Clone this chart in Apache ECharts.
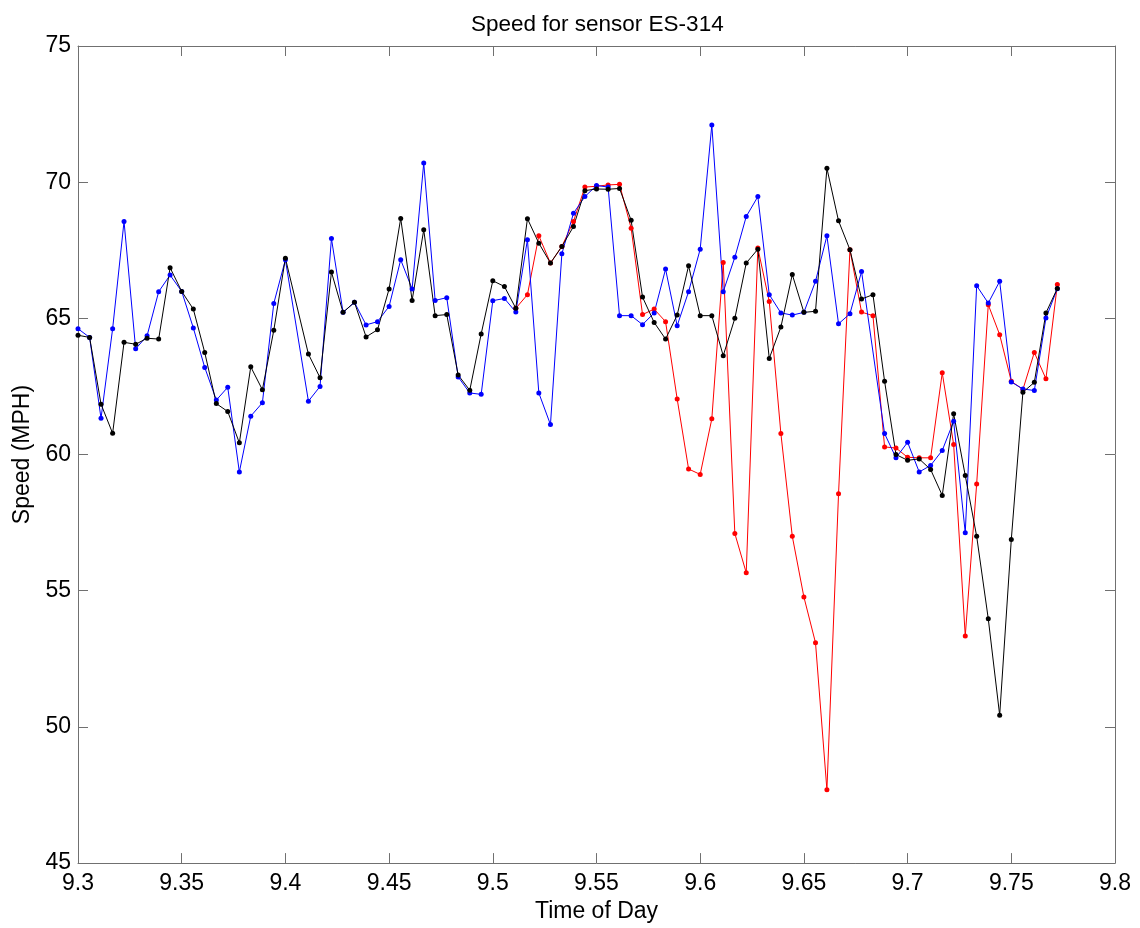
<!DOCTYPE html>
<html>
<head>
<meta charset="utf-8">
<script src="https://cdn.jsdelivr.net/npm/echarts@6/dist/echarts.min.js"></script>
<style>html,body{margin:0;padding:0;background:#fff}#c{width:1140px;height:928px}</style>
</head>
<body>
<div id="c"></div>
<script>
const times = [9.3000, 9.3056, 9.3111, 9.3167, 9.3222, 9.3278, 9.3333, 9.3389, 9.3444, 9.3500,
  9.3556, 9.3611, 9.3667, 9.3722, 9.3778, 9.3833, 9.3889, 9.3944, 9.4000, 9.4056,
  9.4111, 9.4167, 9.4222, 9.4278, 9.4333, 9.4389, 9.4444, 9.4500, 9.4556, 9.4611,
  9.4667, 9.4722, 9.4778, 9.4833, 9.4889, 9.4944, 9.5000, 9.5056, 9.5111, 9.5167,
  9.5222, 9.5278, 9.5333, 9.5389, 9.5444, 9.5500, 9.5556, 9.5611, 9.5667, 9.5722,
  9.5778, 9.5833, 9.5889, 9.5944, 9.6000, 9.6056, 9.6111, 9.6167, 9.6222, 9.6278,
  9.6333, 9.6389, 9.6444, 9.6500, 9.6556, 9.6611, 9.6667, 9.6722, 9.6778, 9.6833,
  9.6889, 9.6944, 9.7000, 9.7056, 9.7111, 9.7167, 9.7222, 9.7278, 9.7333, 9.7389,
  9.7444, 9.7500, 9.7556, 9.7611, 9.7667, 9.7722];

// red series is hidden under the black one before 9.511; only its visible part is given
const redSpeed = [null, null, null, null, null, null, null, null, null, null,
  null, null, null, null, null, null, null, null, null, null,
  null, null, null, null, null, null, null, null, null, null,
  null, null, null, null, null, null, null, null, 65.37, 65.87,
  68.03, 67.03, 67.64, 68.56, 69.82, 69.85, 69.90, 69.92, 68.31, 65.14,
  65.34, 64.88, 62.04, 59.47, 59.27, 61.31, 67.05, 57.10, 55.66, 67.58,
  65.62, 60.77, 57.00, 54.77, 53.09, 47.69, 58.56, 67.52, 65.23, 65.10,
  60.28, 60.24, 59.90, 59.88, 59.88, 63.00, 60.37, 53.34, 58.92, 65.50,
  64.40, 62.69, 62.39, 63.75, 62.78, 66.24];

const blueSpeed = [64.62, 64.30, 61.33, 64.62, 68.56, 63.88, 64.36, 65.98, 66.59, 65.99,
  64.65, 63.20, 62.00, 62.47, 59.36, 61.41, 61.90, 65.55, 67.15, null,
  61.96, 62.50, 67.93, 65.22, 65.59, 64.76, 64.88, 65.44, 67.15, 66.08,
  70.70, 65.66, 65.76, 62.85, 62.26, 62.21, 65.65, 65.73, 65.23, 67.89,
  62.26, 61.10, 67.37, 68.86, 69.47, 69.88, 69.82, 65.10, 65.10, 64.77,
  65.20, 66.81, 64.73, 65.98, 67.54, 72.10, 65.98, 67.24, 68.74, 69.47,
  65.87, 65.20, 65.12, 65.22, 66.36, 68.03, 64.80, 65.17, 66.72, null,
  60.77, 59.88, 60.45, 59.36, 59.60, 60.15, 61.22, 57.13, 66.20, 65.56,
  66.36, 62.66, 62.41, 62.35, 65.01, 66.09];

const blackSpeed = [64.38, 64.30, 61.85, 60.78, 64.12, 64.05, 64.27, 64.24, 66.86, 65.99,
  65.34, 63.75, 61.87, 61.58, 60.43, 63.22, 62.38, 64.56, 67.21, null,
  63.69, 62.82, 66.70, 65.22, 65.59, 64.32, 64.58, 66.08, 68.67, 65.66,
  68.25, 65.10, 65.14, 62.92, 62.36, 64.43, 66.38, 66.17, 65.37, 68.66,
  67.76, 67.03, 67.64, 68.37, 69.69, 69.75, 69.74, 69.77, 68.60, 65.78,
  64.85, 64.24, 65.12, 66.93, 65.10, 65.10, 63.63, 65.00, 67.03, 67.54,
  63.53, 64.68, 66.61, 65.22, 65.26, 70.51, 68.58, 67.52, 65.71, 65.87,
  62.69, 60.00, 59.79, 59.84, 59.45, 58.50, 61.50, 59.23, 57.00, 53.97,
  50.43, 56.88, 62.29, 62.65, 65.20, 66.10];

const xTickLabels = ['9.3', '9.35', '9.4', '9.45', '9.5', '9.55', '9.6', '9.65', '9.7', '9.75', '9.8'];
const yTickLabels = ['45', '50', '55', '60', '65', '70', '75'];

function pairs(vals) {
  const out = [];
  for (let i = 0; i < times.length; i++) {
    if (vals[i] !== null) out.push([times[i], vals[i]]);
  }
  return out;
}

const FONT = 'Liberation Sans, Arial, sans-serif';
const AX = '#707070';

function mkSeries(name, vals, color) {
  return {
    name: name, type: 'line', xAxisIndex: 0, yAxisIndex: 0,
    data: pairs(vals),
    symbol: 'circle', symbolSize: 5,
    lineStyle: { color: color, width: 1 },
    itemStyle: { color: color },
    emphasis: { disabled: true },
    animation: false
  };
}

const chart = echarts.init(document.getElementById('c'), null, { renderer: 'canvas' });
chart.setOption({
  backgroundColor: '#fff',
  animation: false,
  title: {
    text: 'Speed for sensor ES-314',
    left: 466, top: 8,
    textStyle: { fontFamily: FONT, fontSize: 22.5, fontWeight: 'normal', color: '#000' }
  },
  grid: { left: 78, top: 46, right: 25, bottom: 64, containLabel: false },
  xAxis: [{
    type: 'value', min: 9.3, max: 9.8, interval: 0.05, position: 'bottom',
    name: 'Time of Day', nameLocation: 'middle', nameGap: 36,
    nameTextStyle: { fontFamily: FONT, fontSize: 23, color: '#000' },
    axisLine: { show: true, lineStyle: { color: AX, width: 1 } },
    axisTick: { show: true, inside: true, length: 10, lineStyle: { color: AX } },
    axisLabel: { fontFamily: FONT, fontSize: 23, color: '#000', margin: 9,
      formatter: function (v) { const idx = Math.round((v - 9.3) / 0.05); return xTickLabels[idx] || ''; } },
    splitLine: { show: false }
  }, {
    type: 'value', min: 9.3, max: 9.8, interval: 0.05, position: 'top',
    axisLine: { show: true, lineStyle: { color: AX, width: 1 } },
    axisTick: { show: true, inside: true, length: 10, lineStyle: { color: AX } },
    axisLabel: { show: false }, splitLine: { show: false }
  }],
  yAxis: [{
    type: 'value', min: 45, max: 75, interval: 5, position: 'left',
    name: 'Speed (MPH)', nameLocation: 'middle', nameGap: 38, nameRotate: 90,
    nameTextStyle: { fontFamily: FONT, fontSize: 23, color: '#000' },
    axisLine: { show: true, lineStyle: { color: AX, width: 1 } },
    axisTick: { show: true, inside: true, length: 10, lineStyle: { color: AX } },
    axisLabel: { fontFamily: FONT, fontSize: 23, color: '#000', margin: 7,
      formatter: function (v) { const idx = Math.round((v - 45) / 5); return yTickLabels[idx] || ''; } },
    splitLine: { show: false }
  }, {
    type: 'value', min: 45, max: 75, interval: 5, position: 'right',
    axisLine: { show: true, lineStyle: { color: AX, width: 1 } },
    axisTick: { show: true, inside: true, length: 10, lineStyle: { color: AX } },
    axisLabel: { show: false }, splitLine: { show: false }
  }],
  series: [
    mkSeries('Red', redSpeed, '#ff0000'),
    mkSeries('Blue', blueSpeed, '#0000ff'),
    mkSeries('Black', blackSpeed, '#000000')
  ]
});
</script>
</body>
</html>
